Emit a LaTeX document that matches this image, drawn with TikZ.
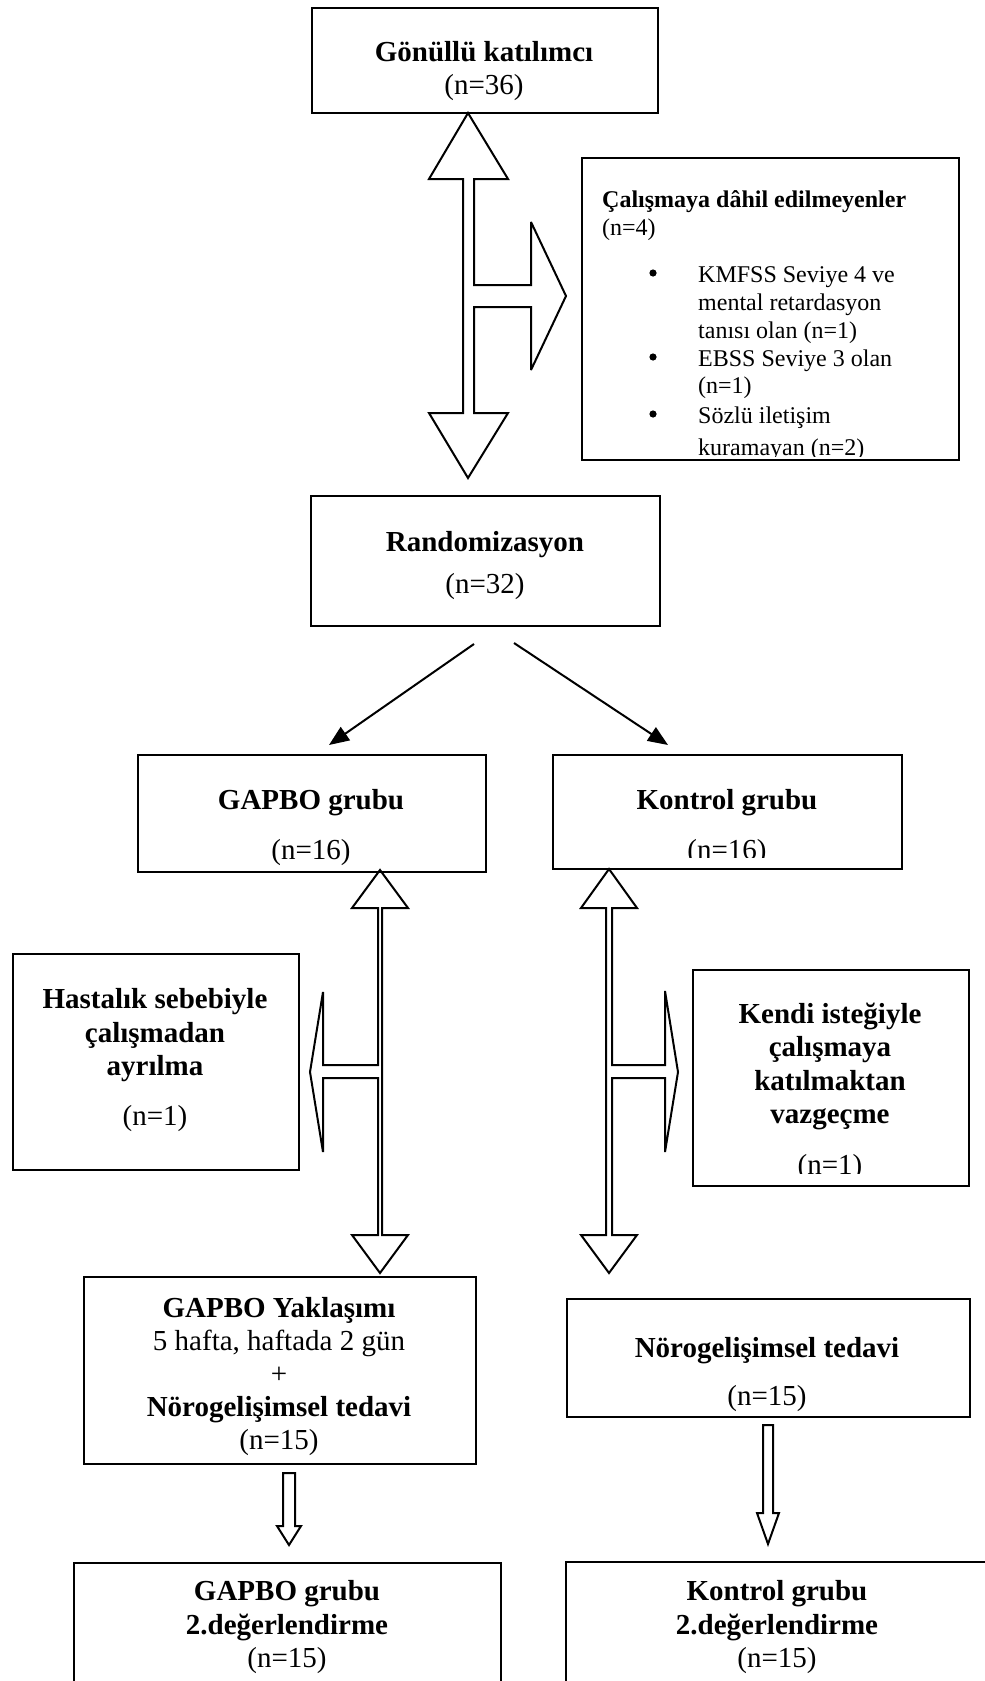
\documentclass[tikz,border=0pt]{standalone}
\usepackage{fontspec}
\setmainfont{Liberation Serif}
\usetikzlibrary{arrows.meta}
\tikzset{
  boxst/.style={draw, line width=2pt, inner sep=0pt, anchor=north west},
  big/.style={font=\fontsize{29}{33}\selectfont, inner sep=0pt, anchor=base},
  bigb/.style={font=\fontsize{29}{33}\selectfont\bfseries, inner sep=0pt, anchor=base},
  sml/.style={font=\fontsize{24}{28}\selectfont, inner sep=0pt, anchor=base west},
  smlb/.style={font=\fontsize{24}{28}\selectfont\bfseries, inner sep=0pt, anchor=base west},
  fat/.style={draw, line width=2pt, line join=miter, miter limit=3},
  thin/.style={draw, line width=2pt, -{Triangle[length=20pt,width=16pt]}},
  dot/.style={fill=black}
}
\begin{document}
\begin{tikzpicture}[x=1pt,y=-1pt]
\clip (0,0) rectangle (985,1681);
\fill[white] (0,0) rectangle (985,1681);

% boxes
\node[boxst, minimum width=346pt, minimum height=105pt] (gon) at (311,7) {};
\node[boxst, minimum width=377pt, minimum height=302pt] (exc) at (581,157) {};
\node[boxst, minimum width=349pt, minimum height=130pt] (ran) at (310,495) {};
\node[boxst, minimum width=348pt, minimum height=117pt] (gg) at (137,754) {};
\node[boxst, minimum width=349pt, minimum height=114pt] (kg) at (552,754) {};
\node[boxst, minimum width=286pt, minimum height=216pt] (has) at (12,953) {};
\node[boxst, minimum width=276pt, minimum height=216pt] (ken) at (692,969) {};
\node[boxst, minimum width=392pt, minimum height=187pt] (gy) at (83,1276) {};
\node[boxst, minimum width=403pt, minimum height=118pt] (nt) at (566,1298) {};
\node[boxst, minimum width=427pt, minimum height=150pt] (g2) at (73,1562) {};
\node[boxst, minimum width=430pt, minimum height=150pt] (k2) at (565,1561) {};

% texts
\node[bigb] (t1) at (484,61) {Gönüllü katılımcı};
\node[big] (t2) at (484,94) {(n=36)};

\node[smlb] (e1) at (602,207) {Çalışmaya dâhil edilmeyenler};
\node[sml] (e2) at (602,235) {(n=4)};
\node[sml] (e3) at (698,282) {KMFSS Seviye 4 ve};
\node[sml] (e4) at (698,310) {mental retardasyon};
\node[sml] (e5) at (698,338) {tanısı olan (n=1)};
\node[sml] (e6) at (698,366) {EBSS Seviye 3 olan};
\node[sml] (e7) at (698,393) {(n=1)};
\node[sml] (e8) at (698,423) {Sözlü iletişim};
\begin{scope}
\clip (583,159) rectangle (956,456);
\node[sml] (e9) at (698,455) {kuramayan (n=2)};
\end{scope}
\fill[dot] (653,273) circle (3.6);
\fill[dot] (653,357) circle (3.6);
\fill[dot] (653,414) circle (3.6);

\node[bigb] (r1) at (485,551) {Randomizasyon};
\node[big] (r2) at (485,593) {(n=32)};

\node[bigb] (g1) at (311,809) {GAPBO grubu};
\node[big] (g1n) at (311,859) {(n=16)};
\node[bigb] (k1) at (727,809) {Kontrol grubu};
\begin{scope}
\clip (554,756) rectangle (899,857);
\node[big] (k1n) at (727,859) {(n=16)};
\end{scope}

\node[bigb] (h1) at (155,1008) {Hastalık sebebiyle};
\node[bigb] (h2) at (155,1042) {çalışmadan};
\node[bigb] (h3) at (155,1075) {ayrılma};
\node[big] (h4) at (155,1125) {(n=1)};

\node[bigb] (c1) at (830,1023) {Kendi isteğiyle};
\node[bigb] (c2) at (830,1056) {çalışmaya};
\node[bigb] (c3) at (830,1090) {katılmaktan};
\node[bigb] (c4) at (830,1123) {vazgeçme};
\begin{scope}
\clip (694,971) rectangle (966,1173);
\node[big] (c5) at (830,1174) {(n=1)};
\end{scope}

\node[bigb] (y1) at (279,1317) {GAPBO Yaklaşımı};
\node[big] (y2) at (279,1350) {5 hafta, haftada 2 gün};
\node[big] (y3) at (279,1383) {+};
\node[bigb] (y4) at (279,1416) {Nörogelişimsel tedavi};
\node[big] (y5) at (279,1449) {(n=15)};

\node[bigb] (n1) at (767,1357) {Nörogelişimsel tedavi};
\node[big] (n2) at (767,1405) {(n=15)};

\node[bigb] (b1) at (287,1600) {GAPBO grubu};
\node[bigb] (b2) at (287,1634) {2.değerlendirme};
\node[big] (b3) at (287,1667) {(n=15)};
\node[bigb] (b4) at (777,1600) {Kontrol grubu};
\node[bigb] (b5) at (777,1634) {2.değerlendirme};
\node[big] (b6) at (777,1667) {(n=15)};

% top three-way arrow
\draw[fat] (468,113) -- (508,179) -- (474,179) -- (474,285) -- (531,285) -- (531,222)
  -- (566,296) -- (531,370) -- (531,307) -- (474,307) -- (474,413) -- (508,413)
  -- (468,478) -- (429,413) -- (463,413) -- (463,179) -- (429,179) -- cycle;

% diagonal arrows
\coordinate (d1s) at (474,644);
\coordinate (d1e) at (329,745);
\coordinate (d2s) at (514,643);
\coordinate (d2e) at (668,745);
\draw[thin] (d1s) -- (d1e);
\draw[thin] (d2s) -- (d2e);

% left middle arrow
\draw[fat] (380,870) -- (408,908) -- (382,908) -- (382,1235) -- (408,1235) -- (380,1273)
  -- (352,1235) -- (378,1235) -- (378,1078) -- (323,1078) -- (323,1152) -- (310,1072)
  -- (323,992) -- (323,1065) -- (378,1065) -- (378,908) -- (352,908) -- cycle;

% right middle arrow
\draw[fat] (609,869) -- (637,908) -- (612,908) -- (612,1065) -- (665,1065) -- (665,991)
  -- (678,1072) -- (665,1152) -- (665,1078) -- (612,1078) -- (612,1235) -- (637,1235)
  -- (609,1273) -- (581,1235) -- (606,1235) -- (606,908) -- (581,908) -- cycle;

% small down arrows
\draw[fat] (283,1473) -- (295,1473) -- (295,1526) -- (301,1526) -- (289,1545)
  -- (277,1526) -- (283,1526) -- cycle;
\draw[fat] (763,1425) -- (773,1425) -- (773,1513) -- (779,1513) -- (768,1544)
  -- (757,1513) -- (763,1513) -- cycle;
\end{tikzpicture}
\end{document}
